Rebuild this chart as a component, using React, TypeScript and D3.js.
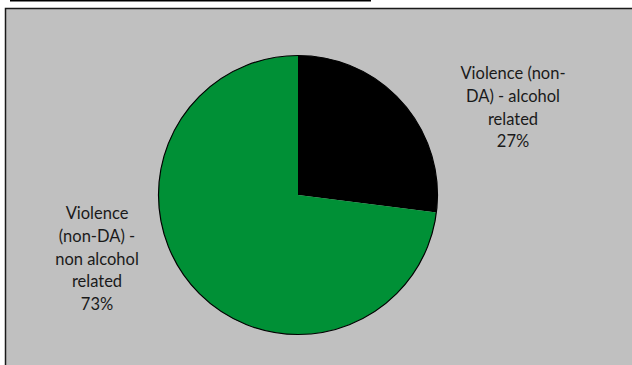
import React from "react";
import * as d3 from "d3";

const categories = ["Violence (non-DA) - alcohol related", "Violence (non-DA) - non alcohol related"];
const values = [27, 73];
const colors = ["#000000", "#009036"];
const labelLines = [
  ["Violence (non-", "DA) - alcohol", "related", "27%"],
  ["Violence", "(non-DA) -", "non alcohol", "related", "73%"],
];

const W = 632;
const H = 365;
const cx = 298;
const cy = 195;
const R = 139.5;
const labelPos = [
  { x: 513, y: 75 },
  { x: 97, y: 215 },
];
const lineH = 22.8;

export default function App() {
  const pie = d3.pie<number>().sort(null).value((d) => d)(values);
  const arc = d3.arc<d3.PieArcDatum<number>>().innerRadius(0).outerRadius(R);
  return (
    <svg
      width={W}
      height={H}
      style={{ position: "absolute", left: 0, top: 0, display: "block" }}
      fontFamily="Lato, 'Open Sans', sans-serif"
    >
      <rect x={0} y={0} width={W} height={H} fill="#ffffff" />
      <rect x={10} y={-0.5} width={361} height={2} fill="#000" />
      <rect x={5.5} y={8.5} width={700} height={500} fill="#c0c0c0" stroke="#1a1a1a" strokeWidth={1.5} />
      <g transform={`translate(${cx},${cy})`}>
        {pie.map((p, i) => (
          <path key={categories[i]} d={arc(p) || ""} fill={colors[i]} />
        ))}
        <circle r={R} fill="none" stroke="#000" strokeWidth={1.2} />
      </g>
      {labelLines.map((lines, i) => (
        <text
          key={i}
          textAnchor="middle"
          fontSize={16.5}
          fill="#1a1a1a"
          dominantBaseline="middle"
        >
          {lines.map((l, j) => (
            <tspan key={j} x={labelPos[i].x} y={labelPos[i].y + j * lineH}>
              {l}
            </tspan>
          ))}
        </text>
      ))}
    </svg>
  );
}
